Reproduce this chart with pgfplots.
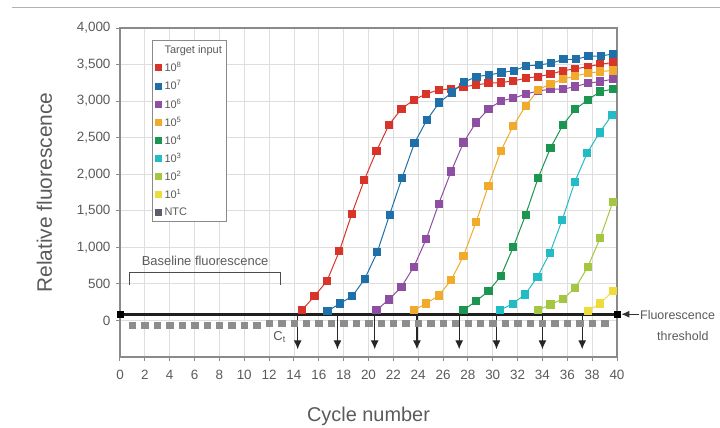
\documentclass[border=0pt]{standalone}
\usepackage{pgfplots}
\pgfplotsset{compat=1.18}
\usepackage{fontspec}
\setmainfont{Liberation Sans}
\usetikzlibrary{arrows.meta}
\definecolor{cR}{HTML}{D8352A}
\definecolor{cB}{HTML}{1F70A8}
\definecolor{cP}{HTML}{8E4FA3}
\definecolor{cO}{HTML}{F0AA2C}
\definecolor{cG}{HTML}{1B9550}
\definecolor{cC}{HTML}{22BDC4}
\definecolor{cL}{HTML}{A5C640}
\definecolor{cY}{HTML}{EEDC3A}
\definecolor{cN}{HTML}{8D8D8D}
\definecolor{cNL}{HTML}{5D5D6D}
\definecolor{txt}{HTML}{5A5A5A}
\definecolor{gridc}{HTML}{DEDEDE}
\definecolor{axc}{HTML}{8A8A8A}
\begin{document}
\begin{tikzpicture}
\begin{axis}[
  scale only axis, width=497bp, height=329bp,
  xmin=0, xmax=40, ymin=-500, ymax=4000,
  xtick={0,2,...,40}, ytick={0,500,...,4000},
  scaled y ticks=false,
  /pgf/number format/assume math mode=true,
  /pgf/number format/1000 sep={,},
  grid=major, major grid style={gridc, line width=0.8bp},
  axis line style={axc, line width=1.1bp},
  tick style={axc, line width=1bp}, tick align=outside, major tick length=4bp,
  xtick pos=bottom, ytick pos=left,
  ticklabel style={font=\fontsize{13.5}{15}\selectfont, text=txt},
  yticklabel style={xshift=-2bp},
  xticklabel style={yshift=-6bp},
  xlabel={Cycle number}, ylabel={Relative fluorescence},
  xlabel style={font=\fontsize{20}{22}\selectfont, text=txt, at={(axis description cs:0.5,-0.18)}, anchor=center},
  ylabel style={font=\fontsize{21}{23}\selectfont, text=txt, at={(axis description cs:-0.152,0.5)}, anchor=center},
  clip=false,
  legend image code/.code={\draw[#1] plot coordinates {(0.08cm,0cm)};},
  legend style={at={(axis description cs:0.0645,0.963)}, anchor=north west, draw=axc, line width=1bp,
    font=\fontsize{11}{12}\selectfont, text=txt, row sep=3.4bp, inner sep=3bp, column sep=1bp},
  legend cell align=left,
]
% NTC
\addplot[only marks, mark=square*, mark size=3.2bp, color=cN, forget plot] coordinates {
(1,-65)(2,-65)(3,-65)(4,-65)(5,-65)(6,-65)(7,-65)(8,-65)(9,-65)(10,-65)(11,-65)
(12,-35)(13,-35)(14,-35)(15,-35)(16,-35)(17,-35)(18,-35)(19,-35)(20,-35)(21,-35)(22,-35)(23,-35)(24,-35)(25,-35)
(26,-35)(27,-35)(28,-35)(29,-35)(30,-35)(31,-35)(32,-35)(33,-35)(34,-35)(35,-35)(36,-35)(37,-35)(38,-35)(39,-35)};
% threshold
\addplot[color=black!88, line width=3.2bp, forget plot] coordinates {(0,85)(40,85)};
\addplot[only marks, mark=square*, mark size=3bp, color=black, forget plot] coordinates {(0,85)(40,85)};
% curves
\addplot[color=cR, line width=1bp, mark=square*, mark size=3.6bp, forget plot] coordinates {
(14.65,141)(15.65,332)(16.65,537)(17.65,946)(18.65,1456)(19.65,1916)(20.65,2321)(21.65,2676)(22.65,2894)(23.65,3017)(24.65,3099)(25.65,3154)(26.65,3167)(27.65,3195)(28.65,3222)(29.65,3245)(30.65,3254)(31.65,3276)(32.65,3313)(33.65,3335)(34.65,3368)(35.65,3417)(36.65,3440)(37.65,3472)(38.65,3505)(39.65,3527)};
\addplot[color=cB, line width=1bp, mark=square*, mark size=3.6bp, forget plot] coordinates {
(16.7,127)(17.7,232)(18.7,332)(19.7,569)(20.7,932)(21.7,1447)(22.7,1950)(23.7,2426)(24.7,2744)(25.7,2980)(26.7,3117)(27.7,3262)(28.7,3335)(29.7,3358)(30.7,3390)(31.7,3417)(32.7,3481)(33.7,3495)(34.7,3518)(35.7,3572)(36.7,3572)(37.7,3617)(38.7,3617)(39.7,3645)};
\addplot[color=cP, line width=1bp, mark=square*, mark size=3.6bp, forget plot] coordinates {
(20.65,141)(21.65,287)(22.65,460)(23.65,733)(24.65,1115)(25.65,1595)(26.65,2038)(27.65,2434)(28.65,2707)(29.65,2890)(30.65,3003)(31.65,3040)(32.65,3095)(33.65,3140)(34.65,3163)(35.65,3163)(36.65,3199)(37.65,3245)(38.65,3267)(39.65,3300)};
\addplot[color=cO, line width=1bp, mark=square*, mark size=3.6bp, forget plot] coordinates {
(23.65,141)(24.65,232)(25.65,341)(26.65,550)(27.65,885)(28.65,1342)(29.65,1843)(30.65,2320)(31.65,2662)(32.65,2935)(33.65,3154)(34.65,3235)(35.65,3300)(36.65,3345)(37.65,3382)(38.65,3404)(39.65,3418)};
\addplot[color=cG, line width=1bp, mark=square*, mark size=3.6bp, forget plot] coordinates {
(27.65,141)(28.65,264)(29.65,400)(30.65,605)(31.65,1001)(32.65,1447)(33.65,1948)(34.65,2360)(35.65,2676)(36.65,2890)(37.65,3017)(38.65,3131)(39.65,3163)};
\addplot[color=cC, line width=1bp, mark=square*, mark size=3.6bp, forget plot] coordinates {
(30.6,141)(31.6,230)(32.6,355)(33.6,597)(34.6,924)(35.6,1379)(36.6,1893)(37.6,2289)(38.6,2570)(39.6,2812)};
\addplot[color=cL, line width=1bp, mark=square*, mark size=3.6bp, forget plot] coordinates {
(33.65,141)(34.65,218)(35.65,296)(36.65,446)(37.65,733)(38.65,1129)(39.65,1615)};
\addplot[color=cY, line width=1bp, mark=square*, mark size=3.6bp, forget plot] coordinates {
(37.65,127)(38.65,232)(39.65,400)};
% legend
\addlegendimage{empty legend}\addlegendentry{Target input}
\addlegendimage{only marks, mark=square*, mark size=3bp, cR}\addlegendentry{10\textsuperscript{8}}
\addlegendimage{only marks, mark=square*, mark size=3bp, cB}\addlegendentry{10\textsuperscript{7}}
\addlegendimage{only marks, mark=square*, mark size=3bp, cP}\addlegendentry{10\textsuperscript{6}}
\addlegendimage{only marks, mark=square*, mark size=3bp, cO}\addlegendentry{10\textsuperscript{5}}
\addlegendimage{only marks, mark=square*, mark size=3bp, cG}\addlegendentry{10\textsuperscript{4}}
\addlegendimage{only marks, mark=square*, mark size=3bp, cC}\addlegendentry{10\textsuperscript{3}}
\addlegendimage{only marks, mark=square*, mark size=3bp, cL}\addlegendentry{10\textsuperscript{2}}
\addlegendimage{only marks, mark=square*, mark size=3bp, cY}\addlegendentry{10\textsuperscript{1}}
\addlegendimage{only marks, mark=square*, mark size=3bp, cNL}\addlegendentry{NTC}
% Ct arrows
\foreach \c in {14.3,17.5,20.5,23.9,27.3,30.3,34.0,37.2} {
  \edef\tmp{\noexpand\draw[black!85, line width=1.2bp, -{Latex[length=9bp,width=8bp]}] (axis cs:\c,85) -- (axis cs:\c,-395);}\tmp
}
% baseline bracket
\draw[black!70, line width=1bp] (axis cs:0.8,480) -- (axis cs:0.8,650) -- (axis cs:12.9,650) -- (axis cs:12.9,480);
\node[text=txt, font=\fontsize{13}{14}\selectfont] at (axis cs:6.85,810) {Baseline fluorescence};
\node[text=txt, font=\fontsize{13}{14}\selectfont] at (axis cs:12.85,-225) {C\textsubscript{t}};
% threshold label
\draw[black!80, line width=1bp, -{Latex[length=8bp,width=7bp]}] (axis cs:41.8,85) -- (axis cs:40.35,85);
\node[text=txt, font=\fontsize{12.5}{14}\selectfont, anchor=west, inner sep=0pt] at (axis cs:41.85,70) {Fluorescence};
\node[text=txt, font=\fontsize{12.5}{14}\selectfont, anchor=center, inner sep=0pt] at (axis cs:45.3,-210) {threshold};
\end{axis}
\draw[black!30, line width=1.5bp] (-108bp,349.5bp) -- (600bp,349.5bp);
\pgfresetboundingbox
\path[use as bounding box] (-120bp,-71bp) rectangle (600bp,357bp);
\end{tikzpicture}
\end{document}
